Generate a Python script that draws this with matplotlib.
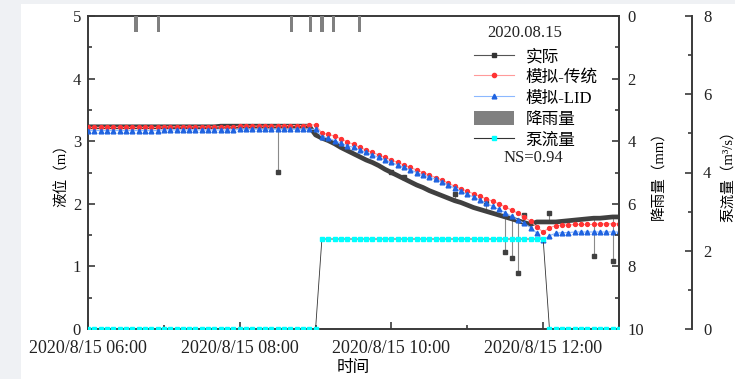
import numpy as np
import pandas as pd
import matplotlib
matplotlib.use("Agg")
import matplotlib.pyplot as plt
import matplotlib.dates as mdates
from matplotlib.ticker import MultipleLocator, FuncFormatter
from matplotlib.patches import Patch, Rectangle
from matplotlib.lines import Line2D

plt.rcParams['font.family'] = ['Liberation Serif', 'Noto Sans CJK SC']
plt.rcParams['font.size'] = 12
plt.rcParams['axes.unicode_minus'] = False

# 5-minute series, 06:00 - 13:00 on 2020-08-15
times = pd.date_range('2020-08-15 06:00', '2020-08-15 13:00', freq='5min')

# observed water level (m)
level_obs = ([3.23] * 21 + [3.24] * 15 +
             [3.10, 3.05, 3.01, 2.96, 2.90, 2.85, 2.80, 2.75, 2.70, 2.66,
              2.61, 2.55, 2.50, 2.45, 2.40, 2.35, 2.30, 2.26, 2.21, 2.17,
              2.13, 2.09, 2.05, 2.02, 1.98, 1.94, 1.91, 1.88, 1.85, 1.82,
              1.79, 1.76, 1.73, 1.70, 1.67, 1.71, 1.71, 1.71, 1.71, 1.72,
              1.73, 1.74, 1.75, 1.76, 1.77, 1.77, 1.78, 1.79, 1.79])

# simulated level, conventional model (m)
level_trad = ([3.22] * 12 + [3.23] * 12 + [3.24] * 7 + [3.25] * 4 + [3.26, 3.26] +
              [3.13, 3.11, 3.08, 3.04, 2.99, 2.95, 2.90, 2.86, 2.82, 2.78,
               2.74, 2.70, 2.66, 2.62, 2.58, 2.54, 2.50, 2.46, 2.42, 2.38,
               2.33, 2.28, 2.24, 2.20, 2.16, 2.12, 2.08, 2.04, 2.00, 1.95,
               1.90, 1.85, 1.79, 1.72, 1.63, 1.55, 1.62, 1.65, 1.66, 1.66] +
              [1.67, 1.67, 1.67, 1.67, 1.68, 1.68, 1.68, 1.68])

# simulated level, LID model (m)
level_lid = ([3.17] * 12 + [3.18] * 12 + [3.19] * 13 +
             [3.07, 3.05, 3.01, 2.97, 2.93, 2.90, 2.86, 2.82, 2.78, 2.74,
              2.70, 2.66, 2.62, 2.58, 2.54, 2.50, 2.46, 2.43, 2.39, 2.35,
              2.30, 2.25, 2.20, 2.15, 2.11, 2.06, 2.01, 1.96, 1.91, 1.86,
              1.80, 1.74, 1.69, 1.62, 1.53, 1.42, 1.49, 1.53, 1.54] +
             [1.54, 1.55, 1.55, 1.55, 1.55, 1.55, 1.55, 1.55, 1.55])

# pump discharge (m3/s)
pump_flow = [0.0] * 37 + [2.3] * 36 + [0.0] * 12

# isolated sensor readings
spike_times = ['08:30', '10:00', '10:10', '10:50', '11:15', '11:30', '11:35',
               '11:40', '11:45', '12:05', '12:40', '12:55']
spike_values = [2.51, 2.51, 2.43, 2.15, 2.01, 1.23, 1.13, 0.90, 1.82, 1.86, 1.17, 1.09]

# rainfall (mm)
rain_times = ['06:38', '06:56', '08:41', '08:56', '09:05', '09:14', '09:35']
rain_mm = [0.5, 0.5, 0.5, 0.5, 0.5, 0.5, 0.5]

spike_t = pd.to_datetime(['2020-08-15 ' + s for s in spike_times])
spike_base = [level_obs[times.get_loc(t)] for t in spike_t]
rain_t = pd.to_datetime(['2020-08-15 ' + s for s in rain_times])

spine_col = '#3a3a3a'
red, red_line = '#ff3333', '#ff9a9a'
blue, blue_line = '#1f63e0', '#8cb8ff'

fig = plt.figure(figsize=(7.35, 3.79), dpi=100)
fig.patch.set_facecolor('#eff1f4')
fig.add_artist(Rectangle((21 / 735, 0), 1, 375 / 379, transform=fig.transFigure,
                         facecolor='white', edgecolor='none', zorder=-10))
ax = fig.add_axes([88 / 735, 50 / 379, 531 / 735, 313 / 379])
ax2 = ax.twinx()
ax3 = ax.twinx()

# water levels
ax.plot(times, level_obs, color='#404040', lw=3.4, solid_capstyle='round', zorder=3)
ax.vlines(spike_t, spike_base, spike_values, color='#8a8a8a', lw=0.8, zorder=2)
ax.plot(spike_t, spike_values, ls='none', marker='s', ms=3.0, color='#404040', zorder=3)
ax.plot(times, level_trad, color=red_line, lw=0.8, marker='o', ms=2.8,
        mfc=red, mec=red, zorder=4)
ax.plot(times, level_lid, color=blue_line, lw=0.8, marker='^', ms=3.4,
        mfc=blue, mec=blue, zorder=5)

# rainfall hanging from the top
ax2.bar(rain_t, rain_mm, width=2.6 / 1440, color='#808080', align='center')

# pump discharge
ax3.plot(times, pump_flow, color='#333333', lw=0.6, marker='s', ms=2.8,
         mfc='#00ffff', mec='#00ffff')

ax.set_xlim(times[0], times[-1])
ax.set_ylim(0, 5)
ax2.set_ylim(10, 0)
ax3.set_ylim(0, 8)

ax.xaxis.set_major_locator(mdates.HourLocator(byhour=[6, 8, 10, 12]))
ax.xaxis.set_minor_locator(mdates.HourLocator(interval=1))


def fmt_time(v, pos):
    d = mdates.num2date(v)
    return f"{d.year}/{d.month}/{d.day} {d:%H:%M}"


ax.xaxis.set_major_formatter(FuncFormatter(fmt_time))
ax.yaxis.set_major_locator(MultipleLocator(1))
ax.yaxis.set_minor_locator(MultipleLocator(0.5))
ax2.yaxis.set_major_locator(MultipleLocator(2))
ax2.yaxis.set_minor_locator(MultipleLocator(1))
ax3.yaxis.set_major_locator(MultipleLocator(2))
ax3.yaxis.set_minor_locator(MultipleLocator(1))

for a in (ax, ax2, ax3):
    for s in a.spines.values():
        s.set_color(spine_col)
        s.set_linewidth(1.4)
    a.tick_params(which='both', direction='in', color=spine_col, width=1.2,
                  labelcolor='#222222', labelsize=12)
    a.tick_params(which='major', length=5)
    a.tick_params(which='minor', length=3)

ax.tick_params(axis='x', which='both', top=False, pad=8, labelsize=13)
ax.tick_params(axis='y', which='both', right=False, pad=5)
ax2.tick_params(axis='y', which='both', pad=6)
ax3.tick_params(axis='y', which='both', pad=8)
for sp in ('left', 'top', 'bottom'):
    ax2.spines[sp].set_visible(False)
    ax3.spines[sp].set_visible(False)
ax3.spines['right'].set_position(('axes', (692 - 88) / 531))

ax.set_xlabel('时间', fontsize=12, labelpad=2)
ax.set_ylabel('液位（m）', fontsize=10.5, labelpad=3)
ax2.set_ylabel('降雨量（mm）', fontsize=10.5, labelpad=6)
ax3.set_ylabel('泵流量（m³/s）', fontsize=10.5, labelpad=7)

handles = [
    Line2D([], [], color='#555555', lw=0.8, marker='s', ms=2.6, mfc='#333333', mec='#333333'),
    Line2D([], [], color=red_line, lw=0.8, marker='o', ms=3.0, mfc=red, mec=red),
    Line2D([], [], color=blue_line, lw=0.8, marker='^', ms=3.4, mfc=blue, mec=blue),
    Patch(facecolor='#808080', edgecolor='none'),
    Line2D([], [], color='#333333', lw=0.8, marker='s', ms=3.2, mfc='#00ffff', mec='#00ffff'),
]
labels = ['实际', '模拟-传统', '模拟-LID', '降雨量', '泵流量']
leg = ax3.legend(handles, labels, loc='upper left', frameon=False,
                 bbox_to_anchor=((474 - 88) / 531, (329 - 48) / 313),
                 borderpad=0, borderaxespad=0, handlelength=2.4, handleheight=1.0,
                 handletextpad=0.7, labelspacing=0.22, fontsize=12)
ax3.text((525 - 88) / 531, (329 - 33) / 313, '2020.08.15', transform=ax.transAxes,
         ha='center', va='center', fontsize=12, color='#222222')
ax3.text((533 - 88) / 531, (329 - 158) / 313, 'NS=0.94', transform=ax.transAxes,
         ha='center', va='center', fontsize=12, color='#222222')

fig.savefig('out.png', dpi=100)
